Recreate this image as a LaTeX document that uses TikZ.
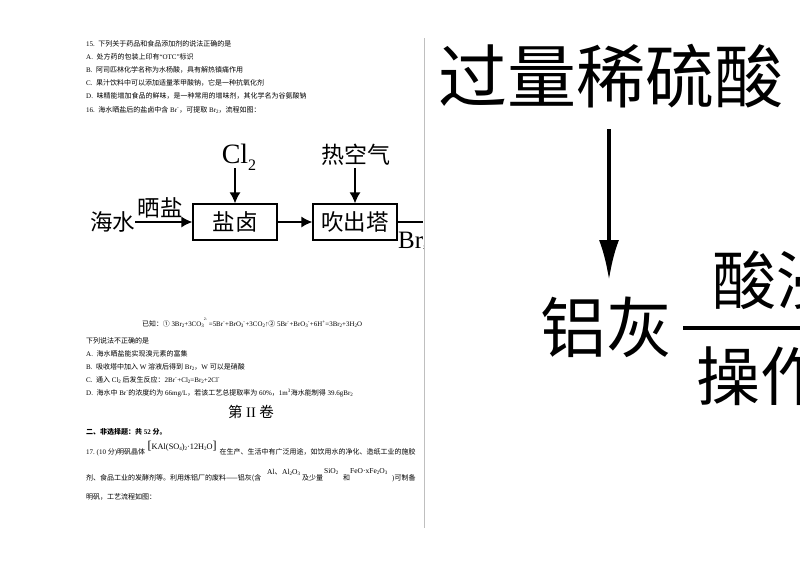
\documentclass[tikz,border=0pt]{standalone}
\usepackage{fontspec}
\setmainfont{Liberation Serif}
\newfontfamily\cjk{Noto Sans CJK SC}
\usetikzlibrary{arrows.meta}
\tikzset{
 x=1pt,y=-1pt,
 line/.style={anchor=west,inner sep=0pt,font=\fontsize{7}{8}\selectfont},
 chem/.style={anchor=west,inner sep=0pt,font=\fontsize{7.5}{8}\selectfont},
 big/.style={inner sep=0pt,font=\cjk\fontsize{22.5}{23}\selectfont},
 huge1/.style={inner sep=0pt,font=\cjk\fontsize{64}{64}\selectfont},
 box/.style={draw,line width=1.3pt,minimum width=84,minimum height=36,inner sep=0pt,font=\cjk\fontsize{22.5}{23}\selectfont},
 flow/.style={line width=1.3pt,-{Latex[length=11pt,width=11pt]}},
 bigflow/.style={line width=4pt,-{Latex[length=40pt,width=20pt]}}
}
\newcommand{\zh}[1]{{\cjk #1}}
\newcommand{\up}[1]{\textsuperscript{#1}}
\newcommand{\dn}[1]{\raisebox{-1pt}{\fontsize{5}{5}\selectfont #1}}
\newcommand{\brk}[1]{{\fontsize{12}{12}\selectfont #1}}
\begin{document}
\begin{tikzpicture}
\useasboundingbox (0,0) rectangle (800,566);
\fill[white] (0,0) rectangle (800,566);
\node[line] (t1) at (86,44) {15.\ \ \zh{下列关于药品和食品添加剂的说法正确的是}};
\node[line] (t2) at (86,57) {A.\ \ \zh{处方药的包装上印有}“OTC”\zh{标识}};
\node[line] (t3) at (86,70) {B.\ \ \zh{阿司匹林化学名称为水杨酸，具有解热镇痛作用}};
\node[line] (t4) at (86,83) {C.\ \ \zh{果汁饮料中可以添加适量苯甲酸钠，它是一种抗氧化剂}};
\node[line] (t5) at (86,96) {D.\ \ \zh{味精能增加食品的鲜味，是一种常用的增味剂，其化学名为谷氨酸钠}};
\node[line] (t6) at (86,110) {16.\ \ \zh{海水晒盐后的盐卤中含} Br\up{-}\zh{，可提取} Br\dn{2}\zh{，流程如图：}};
% flow 1
\node[box] (lu) at (235,222) {盐卤};
\node[box] (ta) at (355,222) {吹出塔};
\node[big] (sea) at (112.5,222) {海水};
\node[big] (sun) at (160,208) {晒盐};
\node[inner sep=0pt,font=\fontsize{28}{28}\selectfont] (cl) at (239,157) {Cl\raisebox{-7pt}{\fontsize{16}{16}\selectfont 2}};
\node[big,font=\cjk\fontsize{23}{23}\selectfont] (air) at (356,155) {热空气};
\coordinate (clout) at (235,168);
\coordinate (airout) at (355,168);
\draw[flow] (sea.east |- lu.west) -- (lu.west);
\draw[flow] (lu.east) -- (ta.west);
\draw[flow] (clout) -- (lu.north);
\draw[flow] (airout) -- (ta.north);
\coordinate (edge) at (423,222);
\draw[line width=1.3pt] (ta.east) -- (edge);
\begin{scope}
\clip (390,200) rectangle (423,270);
\node[anchor=west,inner sep=0pt,font=\fontsize{25}{25}\selectfont] (br) at (398,241) {Br\dn{2}};
\end{scope}
% equation
\node[line,font=\fontsize{6.9}{8}\selectfont] (eq) at (142,323) {\zh{已知：①} 3Br\dn{2}+3CO\dn{3}\raisebox{6pt}{\fontsize{4}{4}\selectfont 2-} =5Br\up{-}+BrO\dn{3}\up{-}+3CO\dn{2}↑\zh{②} 5Br\up{-}+BrO\dn{3}\up{-}+6H\up{+}=3Br\dn{2}+3H\dn{2}O};
\node[line] (a0) at (86,341) {\zh{下列说法不正确的是}};
\node[line] (a1) at (86,354) {A.\ \ \zh{海水晒盐能实现溴元素的富集}};
\node[line] (a2) at (86,367) {B.\ \ \zh{吸收塔中加入} W \zh{溶液后得到} Br\dn{2}\zh{，}W \zh{可以是硝酸}};
\node[line] (a3) at (86,380) {C.\ \ \zh{通入} Cl\dn{2} \zh{后发生反应：}2Br\up{-}+Cl\dn{2}=Br\dn{2}+2Cl\up{-}};
\node[line] (a4) at (86,393) {D.\ \ \zh{海水中} Br\up{-}\zh{的浓度约为} 66mg/L\zh{，若该工艺总提取率为} 60\%\zh{，}1m\up{3}\zh{海水能制得} 39.6gBr\dn{2}};
\node[inner sep=0pt,font=\fontsize{14.5}{15}\selectfont] (juan) at (251,412) {\zh{第} II \zh{卷}};
\node[line,font=\fontsize{7}{8}\selectfont\bfseries] (s2) at (86,432) {\zh{二、非选择题：共} 52 \zh{分。}};
\node[line] (q1) at (86,452) {17.\ (10 \zh{分})\zh{明矾晶体}};
\node[chem,font=\fontsize{8.3}{9}\selectfont] (f1) at (147.5,446) {\brk{[}KAl(SO\dn{4})\dn{2}·12H\dn{2}O\brk{]}};
\node[line] (q2) at (219.5,452) {\zh{在生产、生活中有广泛用途，如饮用水的净化、造纸工业的施胶}};
\node[line] (r1) at (86,478) {\zh{剂、食品工业的发酵剂等。利用炼铝厂的废料——铝灰(含}};
\node[chem] (f2) at (267,472) {Al\zh{、}Al\dn{2}O\dn{3}};
\node[line] (r2) at (302,478) {\zh{及少量}};
\node[chem] (f3) at (324,472) {SiO\dn{2}};
\node[line] (r3) at (343,478) {\zh{和}};
\node[chem] (f4) at (350,472) {FeO·xFe\dn{2}O\dn{3}};
\node[line] (r4) at (392,478) {)\zh{可制备}};
\node[line] (u1) at (86,497) {\zh{明矾，工艺流程如图：}};
% divider
\coordinate (d1) at (424,38);
\coordinate (d2) at (424,528);
\draw[gray!50,line width=1pt] (d1) -- (d2);
% right side
\begin{scope}
\clip (425,0) rectangle (800,566);
\node[huge1,anchor=west,font=\cjk\fontsize{69}{69}\selectfont] (acid) at (438,76) {过量稀硫酸};
\node[huge1,anchor=center,font=\cjk\fontsize{66}{66}\selectfont] (ash) at (606,327) {铝灰};
\node[huge1,anchor=west] (leach) at (712,280) {酸浸};
\node[huge1,anchor=west] (oper) at (696,376) {操作};
\coordinate (rline) at (800,328);
\coordinate (lline) at (683,328);
\draw[line width=4.5pt] (lline) -- (rline);
\coordinate (asrc) at (609,129);
\coordinate (adst) at (609,280);
\draw[bigflow] (asrc) -- (adst);
\end{scope}
\end{tikzpicture}
\end{document}
